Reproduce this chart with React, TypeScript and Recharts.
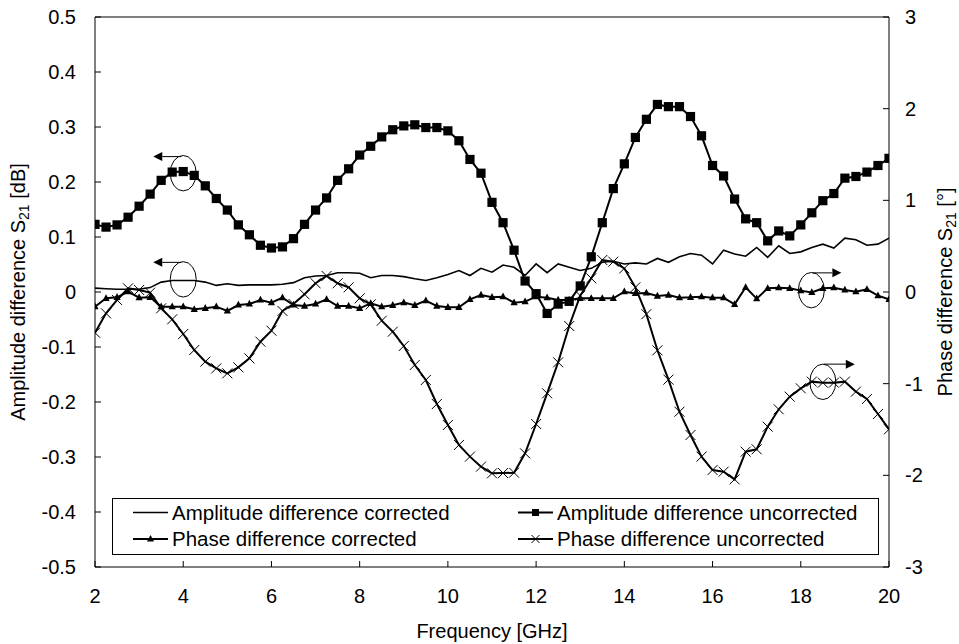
import React from 'react';
import { LineChart, Line, XAxis, YAxis, ReferenceLine, ReferenceDot, Legend } from 'recharts';

const FONT = '"Liberation Sans", Arial, sans-serif';

const freq = [
  2, 2.25, 2.5, 2.75, 3, 3.25, 3.5, 3.75, 4, 4.25, 4.5, 4.75, 5, 5.25, 5.5, 5.75,
  6, 6.25, 6.5, 6.75, 7, 7.25, 7.5, 7.75, 8, 8.25, 8.5, 8.75, 9, 9.25, 9.5, 9.75,
  10, 10.25, 10.5, 10.75, 11, 11.25, 11.5, 11.75, 12, 12.25, 12.5, 12.75, 13, 13.25, 13.5, 13.75,
  14, 14.25, 14.5, 14.75, 15, 15.25, 15.5, 15.75, 16, 16.25, 16.5, 16.75, 17, 17.25, 17.5, 17.75,
  18, 18.25, 18.5, 18.75, 19, 19.25, 19.5, 19.75, 20,
];

const ampCorrected = [
  0.007, 0.006, 0.005, 0.005, 0.005, 0.008, 0.018, 0.021, 0.021, 0.021, 0.018, 0.012, 0.015, 0.012, 0.013, 0.013,
  0.013, 0.014, 0.017, 0.026, 0.029, 0.030, 0.035, 0.035, 0.034, 0.026, 0.030, 0.030, 0.028, 0.024, 0.021, 0.026,
  0.032, 0.039, 0.030, 0.043, 0.036, 0.049, 0.045, 0.030, 0.051, 0.035, 0.051, 0.045, 0.039, 0.043, 0.054, 0.056,
  0.051, 0.053, 0.051, 0.061, 0.054, 0.064, 0.070, 0.067, 0.051, 0.076, 0.069, 0.065, 0.081, 0.063, 0.084, 0.070,
  0.073, 0.081, 0.087, 0.080, 0.098, 0.095, 0.085, 0.087, 0.098,
];

const ampUncorrected = [
  0.123, 0.118, 0.122, 0.136, 0.156, 0.178, 0.203, 0.218, 0.219, 0.212, 0.193, 0.170, 0.149, 0.122, 0.104, 0.085,
  0.080, 0.082, 0.097, 0.123, 0.149, 0.171, 0.203, 0.224, 0.249, 0.265, 0.282, 0.295, 0.302, 0.304, 0.299, 0.299,
  0.293, 0.275, 0.241, 0.216, 0.163, 0.126, 0.076, 0.020, -0.003, -0.039, -0.022, -0.017, 0.011, 0.064, 0.126, 0.188,
  0.233, 0.281, 0.314, 0.341, 0.337, 0.337, 0.319, 0.284, 0.230, 0.211, 0.169, 0.133, 0.126, 0.093, 0.111, 0.102,
  0.122, 0.144, 0.166, 0.179, 0.207, 0.210, 0.218, 0.230, 0.243,
];

const phaseCorrected = [
  -0.160, -0.069, -0.058, 0.003, -0.062, -0.058, -0.160, -0.160, -0.160, -0.189, -0.178, -0.160, -0.207, -0.142, -0.131, -0.087,
  -0.116, -0.062, -0.142, -0.153, -0.131, -0.080, -0.153, -0.153, -0.178, -0.124, -0.160, -0.145, -0.116, -0.145, -0.094, -0.153,
  -0.167, -0.167, -0.080, -0.033, -0.058, -0.051, -0.116, -0.105, -0.051, -0.062, -0.087, -0.087, -0.069, -0.069, -0.069, -0.069,
  0.003, -0.015, -0.010, -0.044, -0.033, -0.062, -0.058, -0.051, -0.062, -0.062, -0.135, 0.051, -0.073, 0.040, 0.047, 0.040,
  0.015, -0.004, 0.040, 0.047, 0.022, 0.003, 0.029, -0.040, -0.080,
];

const phaseUncorrected = [
  -0.444, -0.233, -0.087, 0.040, 0.022, -0.007, -0.178, -0.298, -0.458, -0.633, -0.760, -0.833, -0.887, -0.822, -0.724, -0.542,
  -0.422, -0.207, -0.131, -0.025, 0.095, 0.175, 0.095, 0.051, -0.069, -0.135, -0.313, -0.433, -0.589, -0.796, -0.960, -1.222,
  -1.451, -1.669, -1.796, -1.905, -1.978, -1.975, -1.971, -1.760, -1.440, -1.105, -0.767, -0.371, -0.040, 0.149, 0.349, 0.331,
  0.258, 0.051, -0.242, -0.636, -0.956, -1.306, -1.560, -1.796, -1.942, -1.960, -2.044, -1.742, -1.716, -1.469, -1.280, -1.142,
  -1.051, -0.978, -0.989, -0.989, -0.978, -1.087, -1.167, -1.331, -1.498,
];

const xTicks = [2, 4, 6, 8, 10, 12, 14, 16, 18, 20];
const leftTicks = [-0.5, -0.4, -0.3, -0.2, -0.1, 0, 0.1, 0.2, 0.3, 0.4, 0.5];
const rightTicks = [-3, -2, -1, 0, 1, 2, 3];

const seriesNames = {
  ampCorr: 'Amplitude difference corrected',
  ampUncorr: 'Amplitude difference uncorrected',
  phaseCorr: 'Phase difference corrected',
  phaseUncorr: 'Phase difference uncorrected',
};

const data = freq.map((f, i) => ({
  f,
  ampCorr: ampCorrected[i],
  ampUncorr: ampUncorrected[i],
  phaseCorr: phaseCorrected[i],
  phaseUncorr: phaseUncorrected[i],
}));

const SquareDot = (props: any) => {
  const { cx, cy, index } = props;
  if (cx == null || cy == null) return <g key={`s-${index}`} />;
  return <rect key={`s-${index}`} x={cx - 4.6} y={cy - 4.6} width={9.2} height={9.2} fill="#000" />;
};

const TriDot = (props: any) => {
  const { cx, cy, index } = props;
  if (cx == null || cy == null) return <g key={`t-${index}`} />;
  return (
    <polygon
      key={`t-${index}`}
      points={`${cx},${cy - 4.2} ${cx - 3.6},${cy + 2.6} ${cx + 3.6},${cy + 2.6}`}
      fill="#000"
    />
  );
};

const XDot = (props: any) => {
  const { cx, cy, index } = props;
  if (cx == null || cy == null) return <g key={`x-${index}`} />;
  return (
    <path
      key={`x-${index}`}
      d={`M${cx - 5},${cy - 5}L${cx + 5},${cy + 5}M${cx - 5},${cy + 5}L${cx + 5},${cy - 5}`}
      stroke="#000"
      strokeWidth={1}
      fill="none"
    />
  );
};

const makeAnnot = (dir: 'left' | 'right', x0: number, len: number, dy: number) => (props: any) => {
  const { cx, cy } = props;
  const ay = cy + dy;
  const xs = cx + x0;
  const xe = dir === 'left' ? xs - len : xs + len;
  const hx = dir === 'left' ? xe + 9 : xe - 9;
  return (
    <g>
      <ellipse cx={cx} cy={cy} rx={13} ry={17.7} fill="none" stroke="#000" strokeWidth={1} />
      <line x1={xs} y1={ay} x2={hx} y2={ay} stroke="#000" strokeWidth={1} />
      <polygon points={`${xe},${ay} ${hx},${ay - 4.5} ${hx},${ay + 4.5}`} fill="#000" />
    </g>
  );
};

const legendOrder = ['ampCorr', 'ampUncorr', 'phaseCorr', 'phaseUncorr'];

const LegendIcon = ({ k, x, y }: { k: string; x: number; y: number }) => {
  const lw = k === 'ampCorr' ? 1.5 : 2;
  const mid = x + 17.5;
  return (
    <g>
      <line x1={x} y1={y} x2={x + 35} y2={y} stroke="#000" strokeWidth={lw} />
      {k === 'ampUncorr' && <rect x={mid - 3.5} y={y - 3.5} width={7} height={7} fill="#000" />}
      {k === 'phaseCorr' && (
        <polygon points={`${mid},${y - 4} ${mid - 3.5},${y + 2.5} ${mid + 3.5},${y + 2.5}`} fill="#000" />
      )}
      {k === 'phaseUncorr' && (
        <path d={`M${mid - 4},${y - 4}L${mid + 4},${y + 4}M${mid - 4},${y + 4}L${mid + 4},${y - 4}`} stroke="#000" strokeWidth={1} />
      )}
    </g>
  );
};

const renderLegend = (props: any) => {
  const payload: any[] = props.payload || [];
  const items = legendOrder.map((k) => {
    const p = payload.find((it) => it.dataKey === k);
    return { k, name: p ? p.value : (seriesNames as any)[k] };
  });
  const cols = [21, 406];
  const rows = [14.5, 41];
  return (
    <svg width={767} height={57} style={{ display: 'block' }}>
      <rect x={0.5} y={0.5} width={766} height={56} fill="#fff" stroke="#000" strokeWidth={1} />
      {items.map((it, i) => {
        const cx = cols[i % 2];
        const cy = rows[Math.floor(i / 2)];
        return (
          <g key={it.k}>
            <LegendIcon k={it.k} x={cx} y={cy} />
            <text x={cx + 39} y={cy + 7.3} fontSize={20.5} fontFamily={FONT} fill="#000">
              {it.name}
            </text>
          </g>
        );
      })}
    </svg>
  );
};

const LeftTitle = (props: any) => {
  const vb = props.viewBox || {};
  const cy = vb.y + vb.height / 2;
  const x = 25;
  return (
    <text
      x={x}
      y={cy}
      transform={`rotate(-90, ${x}, ${cy})`}
      textAnchor="middle"
      fontSize={20}
      fontFamily={FONT}
      fill="#000"
    >
      Amplitude difference S<tspan fontSize={14} dy={4}>21</tspan>
      <tspan dy={-4}> [dB]</tspan>
    </text>
  );
};

const RightTitle = (props: any) => {
  const vb = props.viewBox || {};
  const cy = vb.y + vb.height / 2;
  const x = 952;
  return (
    <text
      x={x}
      y={cy}
      transform={`rotate(-90, ${x}, ${cy})`}
      textAnchor="middle"
      fontSize={20}
      fontFamily={FONT}
      fill="#000"
    >
      Phase difference S<tspan fontSize={14} dy={4}>21</tspan>
      <tspan dy={-4}> [°]</tspan>
    </text>
  );
};

const BottomTitle = (props: any) => {
  const vb = props.viewBox || {};
  const cx = vb.x + vb.width / 2;
  return (
    <text x={cx} y={638} textAnchor="middle" fontSize={20} fontFamily={FONT} fill="#000">
      Frequency [GHz]
    </text>
  );
};

const tickStyle = { fontSize: 20, fill: '#000', fontFamily: FONT };

const fmtLeft = (v: number) => String(Math.round(v * 10) / 10);

export default function App() {
  return (
    <div style={{ position: 'absolute', left: 0, top: 0, width: 959, height: 644, background: '#fff' }}>
      <LineChart
        width={959}
        height={644}
        data={data}
        margin={{ top: 17, right: 0, bottom: 0, left: 0 }}
        style={{ fontFamily: FONT }}
      >
        <XAxis
          dataKey="f"
          type="number"
          domain={[2, 20]}
          ticks={xTicks}
          allowDataOverflow
          height={77}
          stroke="#000"
          tickSize={-6}
          tickMargin={28}
          tick={tickStyle}
          label={<BottomTitle />}
        />
        <YAxis
          yAxisId="left"
          orientation="left"
          type="number"
          domain={[-0.5, 0.5]}
          ticks={leftTicks}
          allowDataOverflow
          width={95}
          stroke="#000"
          tickSize={-6}
          tickMargin={25}
          tick={tickStyle}
          tickFormatter={fmtLeft}
          label={<LeftTitle />}
        />
        <YAxis
          yAxisId="right"
          orientation="right"
          type="number"
          domain={[-3, 3]}
          ticks={rightTicks}
          allowDataOverflow
          width={70}
          stroke="#000"
          tickSize={-6}
          tickMargin={22}
          tick={tickStyle}
          label={<RightTitle />}
        />
        <ReferenceLine yAxisId="left" y={0.5} stroke="#000" strokeWidth={1} />
        <Legend
          layout="vertical"
          align="center"
          verticalAlign="middle"
          content={renderLegend}
          wrapperStyle={{ left: 112, top: 498, width: 767, height: 57 }}
        />
        <Line
          yAxisId="left"
          dataKey="ampCorr"
          name={seriesNames.ampCorr}
          stroke="#000"
          strokeWidth={1.6}
          dot={false}
          activeDot={false}
          isAnimationActive={false}
        />
        <Line
          yAxisId="right"
          dataKey="phaseCorr"
          name={seriesNames.phaseCorr}
          stroke="#000"
          strokeWidth={2}
          dot={TriDot}
          activeDot={false}
          isAnimationActive={false}
        />
        <Line
          yAxisId="right"
          dataKey="phaseUncorr"
          name={seriesNames.phaseUncorr}
          stroke="#000"
          strokeWidth={2}
          dot={XDot}
          activeDot={false}
          isAnimationActive={false}
        />
        <Line
          yAxisId="left"
          dataKey="ampUncorr"
          name={seriesNames.ampUncorr}
          stroke="#000"
          strokeWidth={2}
          dot={SquareDot}
          activeDot={false}
          isAnimationActive={false}
        />
        <ReferenceDot yAxisId="left" x={4} y={0.216} shape={makeAnnot('left', -2, 28, -16.6)} />
        <ReferenceDot yAxisId="left" x={4} y={0.023} shape={makeAnnot('left', -2, 28, -17)} />
        <ReferenceDot yAxisId="right" x={18.24} y={0.02} shape={makeAnnot('right', 1, 29, -17.3)} />
        <ReferenceDot yAxisId="right" x={18.5} y={-0.98} shape={makeAnnot('right', 1, 31, -17.7)} />
      </LineChart>
    </div>
  );
}
